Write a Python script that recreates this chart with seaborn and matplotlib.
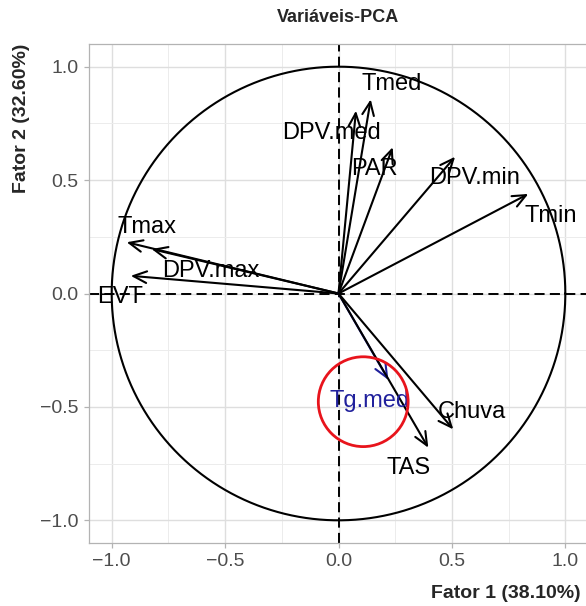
import numpy as np
import pandas as pd
import matplotlib
matplotlib.use("Agg")
import matplotlib.pyplot as plt
from matplotlib.patches import Circle
from matplotlib.ticker import MultipleLocator
import seaborn as sns

# Variable coordinates on the first two factors
variables = ["Tmed", "DPV.med", "PAR", "DPV.min", "Tmin", "Tmax",
             "DPV.max", "EVT", "Tg.med", "TAS", "Chuva"]
fator1 = [0.142, 0.077, 0.239, 0.514, 0.837, -0.934,
          -0.824, -0.916, 0.220, 0.396, 0.506]
fator2 = [0.856, 0.806, 0.645, 0.603, 0.439, 0.226,
          0.196, 0.078, -0.381, -0.680, -0.599]
var_fator1 = 38.10
var_fator2 = 32.60
destaque = "Tg.med"

# Label placement relative to each arrow tip (data units)
label_offsets = [(0.093, 0.041), (-0.107, -0.126), (-0.080, -0.123),
                 (0.086, -0.120), (0.100, -0.124), (0.090, 0.039),
                 (0.261, -0.122), (-0.047, -0.121), (-0.081, -0.118),
                 (-0.085, -0.116), (0.083, 0.049)]

df = pd.DataFrame({"var": variables, "f1": fator1, "f2": fator2})

sns.set_theme(style="whitegrid")
plt.rcParams["font.family"] = ["Liberation Sans", "DejaVu Sans"]

W, H = 586, 606
fig = plt.figure(figsize=(W / 100, H / 100), dpi=100)
ax = fig.add_axes([89 / W, (H - 543) / H, 499 / W, 499 / H])
ax.set_facecolor("white")

# Panel styling (light theme)
for s in ax.spines.values():
    s.set_visible(True)
    s.set_color("#b3b3b3")
    s.set_linewidth(0.9)
ax.xaxis.set_major_locator(MultipleLocator(0.5))
ax.yaxis.set_major_locator(MultipleLocator(0.5))
ax.xaxis.set_minor_locator(MultipleLocator(0.25))
ax.yaxis.set_minor_locator(MultipleLocator(0.25))
ax.grid(which="major", color="#dedede", linewidth=1.0)
ax.grid(which="minor", color="#ececec", linewidth=0.7)
ax.tick_params(which="major", length=3.5, width=0.9, color="#b3b3b3",
               labelsize=14, labelcolor="#4d4d4d", pad=4,
               bottom=True, left=True)
ax.tick_params(which="minor", length=0)
ax.set_axisbelow(True)
ax.set_xticks([-1.0, -0.5, 0.0, 0.5, 1.0])
ax.set_yticks([-1.0, -0.5, 0.0, 0.5, 1.0])
ax.set_xticklabels(["\u22121.0", "\u22120.5", "0.0", "0.5", "1.0"])
ax.set_yticklabels(["\u22121.0", "\u22120.5", "0.0", "0.5", "1.0"])

# Reference axes through the origin
ax.axhline(0, color="black", lw=1.4, ls=(0, (5.2, 2.7)), zorder=2)
ax.axvline(0, color="black", lw=1.4, ls=(0, (5.2, 2.7)), zorder=2)

# Correlation circle
theta = np.linspace(0, 2 * np.pi, 400)
sns.lineplot(x=np.cos(theta), y=np.sin(theta), sort=False, estimator=None,
             color="black", lw=1.5, ax=ax, zorder=3)

# Variable arrows and labels
for (_, row), (dx, dy) in zip(df.iterrows(), label_offsets):
    col = "#20209c" if row["var"] == destaque else "black"
    ax.annotate("", xy=(row["f1"], row["f2"]), xytext=(0, 0),
                arrowprops=dict(arrowstyle="->,head_length=0.8,head_width=0.35",
                                lw=1.5, color=col, shrinkA=0, shrinkB=0),
                zorder=4)
    ax.text(row["f1"] + dx, row["f2"] + dy, row["var"], color=col,
            fontsize=17, ha="center", va="baseline", zorder=5)

# Highlight around the selected variable
ax.add_patch(Circle((0.109, -0.477), 0.198, fill=False, edgecolor="#e8141c",
                    lw=2.0, zorder=6))

ax.set_xlim(-1.1, 1.1)
ax.set_ylim(-1.1, 1.1)
ax.set_aspect("equal", adjustable="box")
ax.set_xlabel("")
ax.set_ylabel("")

fig.text(338 / W, 1 - 17 / H, "Vari\u00e1veis-PCA", fontsize=13,
         fontweight="bold", ha="center", va="center")
fig.text(581 / W, 1 - 593 / H, f"Fator 1 ({var_fator1:.2f}%)", fontsize=14,
         fontweight="bold", ha="right", va="center")
fig.text(22 / W, 1 - 44 / H, f"Fator 2 ({var_fator2:.2f}%)", fontsize=14,
         fontweight="bold", ha="center", va="top", rotation=90)

fig.savefig("out.png", dpi=100)
